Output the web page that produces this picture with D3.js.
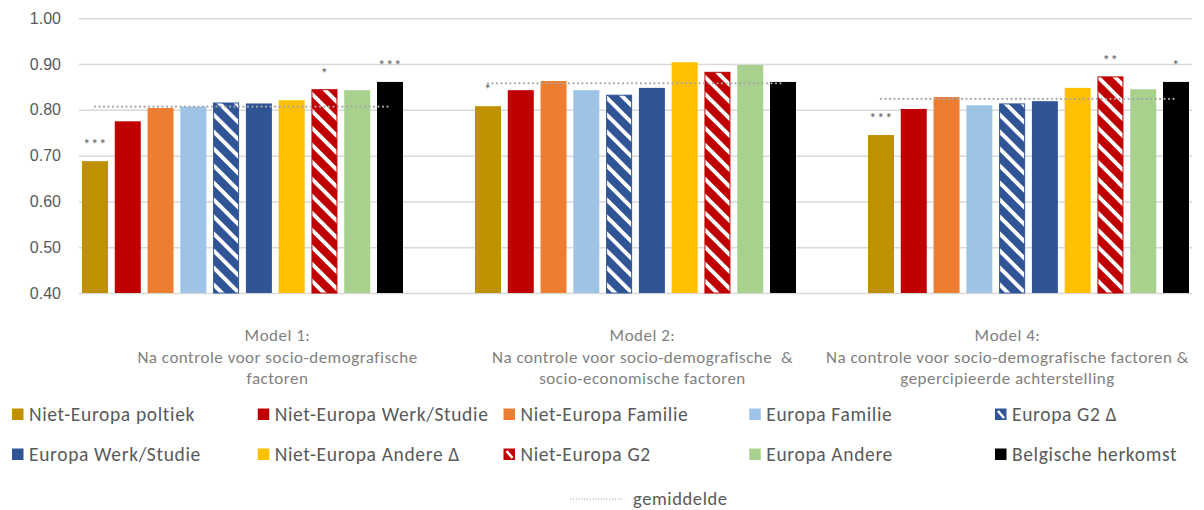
<!DOCTYPE html>
<html>
<head>
<meta charset="utf-8">
<script src="https://cdn.jsdelivr.net/npm/d3@7"></script>
<style>
  html, body { margin: 0; padding: 0; background: #ffffff; }
  svg { display: block; font-family: Carlito, Calibri, Lato, sans-serif; }
</style>
</head>
<body>
<div id="chart"></div>
<script>
// ---------------- DATA ----------------
const categories = ["Model 1", "Model 2", "Model 4"];
const categoryLabels = [
  ["Model 1:", "Na controle voor socio-demografische", "factoren"],
  ["Model 2:", "Na controle voor socio-demografische  &", "socio-economische factoren"],
  ["Model 4:", "Na controle voor socio-demografische factoren &", "gepercipieerde achterstelling"]
];
const seriesNames = [
  "Niet-Europa poltiek", "Niet-Europa Werk/Studie", "Niet-Europa Familie",
  "Europa Familie", "Europa G2 Δ", "Europa Werk/Studie",
  "Niet-Europa Andere Δ", "Niet-Europa G2", "Europa Andere", "Belgische herkomst"
];
const seriesColors = [
  "#BF9000", "#C00000", "#ED7D31", "#9DC3E6", "#2F5597",
  "#2F5597", "#FFC000", "#C00000", "#A9D18E", "#000000"
];
const seriesHatched = [false, false, false, false, true, false, false, true, false, false];

const model1Values = [0.688, 0.775, 0.804, 0.807, 0.815, 0.814, 0.821, 0.844, 0.843, 0.861];
const model2Values = [0.808, 0.843, 0.863, 0.843, 0.832, 0.848, 0.904, 0.882, 0.898, 0.861];
const model4Values = [0.745, 0.802, 0.828, 0.810, 0.813, 0.819, 0.848, 0.872, 0.845, 0.861];
const meanValues = [0.807, 0.858, 0.824];

const model1Stars = ["***", "", "", "", "", "", "", "*", "", "***"];
const model2Stars = ["*", "", "", "", "", "", "", "", "", ""];
const model4Stars = ["***", "", "", "", "", "", "", "**", "", "*"];

const yTicks = [0.40, 0.50, 0.60, 0.70, 0.80, 0.90, 1.00];
const meanLabel = "gemiddelde";

// ---------------- SETUP ----------------
const W = 1204, H = 510;
const allValues = [model1Values, model2Values, model4Values];
const allStars = [model1Stars, model2Stars, model4Stars];

const svg = d3.select("#chart").append("svg")
  .attr("width", W).attr("height", H);

const defs = svg.append("defs");
function makeHatch(id, color) {
  const pw = 17, ph = 17;
  const p = defs.append("pattern").attr("id", id)
    .attr("patternUnits", "userSpaceOnUse")
    .attr("width", pw).attr("height", ph);
  p.append("rect").attr("width", pw).attr("height", ph).attr("fill", color);
  p.append("path")
    .attr("d", `M${-pw},${-ph}L${2*pw},${2*ph}M${-pw},0L${pw},${2*ph}M0,${-ph}L${2*pw},${ph}`)
    .attr("stroke", "#ffffff").attr("stroke-width", 4);
}
makeHatch("hatch-blue", "#2F5597");
makeHatch("hatch-red", "#C00000");
function fillFor(i) {
  if (!seriesHatched[i]) return seriesColors[i];
  return seriesColors[i] === "#2F5597" ? "url(#hatch-blue)" : "url(#hatch-red)";
}

const plotLeft = 79, plotRight = 1192;
const y = d3.scaleLinear().domain([0.40, 1.00]).range([293, 18.3]);

const xGroup = d3.scaleBand().domain(categories).range([46, 1225]);
const clusterWidth = 321;
const xSeries = d3.scaleBand().domain(d3.range(seriesNames.length))
  .range([0, clusterWidth]).paddingInner(0.207).paddingOuter(0);
const clusterOffset = (xGroup.bandwidth() - clusterWidth) / 2;
const xLabel = d3.scaleBand().domain(categories).range([95, 1190]);

// ---------------- GRID + Y AXIS ----------------
const yAxis = d3.axisLeft(y).tickValues(yTicks)
  .tickSize(-(plotRight - plotLeft)).tickPadding(18)
  .tickFormat(d3.format(".2f"));
const gy = svg.append("g").attr("transform", `translate(${plotLeft},0)`).call(yAxis);
gy.select(".domain").remove();
gy.selectAll(".tick line").attr("stroke", "#D9D9D9").attr("stroke-width", 1.5);
gy.selectAll(".tick text").attr("fill", "#595959").style("font-size", "16px");

// ---------------- BARS ----------------
const groups = svg.selectAll("g.group").data(categories).enter().append("g")
  .attr("class", "group")
  .attr("transform", c => `translate(${xGroup(c) + clusterOffset},0)`);

groups.each(function(c, gi) {
  const g = d3.select(this);
  const vals = allValues[gi];
  g.selectAll("rect.bar").data(vals).enter().append("rect")
    .attr("class", "bar")
    .attr("x", (d, i) => xSeries(i) + (seriesHatched[i] ? 0.5 : 0))
    .attr("width", (d, i) => xSeries.bandwidth() - (seriesHatched[i] ? 1 : 0))
    .attr("y", d => y(d))
    .attr("height", d => y(0.40) - y(d))
    .attr("fill", (d, i) => fillFor(i))
    .attr("stroke", (d, i) => seriesHatched[i] ? seriesColors[i] : "none")
    .attr("stroke-width", 1);

  // significance stars
  g.selectAll("text.star").data(vals).enter().append("text")
    .attr("class", "star")
    .attr("x", (d, i) => xSeries(i) + xSeries.bandwidth() / 2)
    .attr("y", d => y(d) - 12)
    .attr("text-anchor", "middle")
    .attr("fill", "#595959")
    .style("font-size", "15px")
    .style("letter-spacing", "0.5px")
    .text((d, i) => allStars[gi][i]);

  // mean line
  const first = xSeries(0) + xSeries.bandwidth() / 2;
  const last = xSeries(seriesNames.length - 1) + xSeries.bandwidth() / 2;
  g.append("line")
    .attr("x1", first).attr("x2", last)
    .attr("y1", y(meanValues[gi])).attr("y2", y(meanValues[gi]))
    .attr("stroke", "#A6A6A6").attr("stroke-width", 2.2)
    .attr("stroke-linecap", "round")
    .attr("stroke-dasharray", "0 4.5");
});

// ---------------- CATEGORY LABELS ----------------
const labelG = svg.append("g");
categories.forEach((c, ci) => {
  const t = labelG.append("text")
    .attr("text-anchor", "middle")
    .attr("fill", "#7F7F7F")
    .style("font-size", "17px")
    .style("letter-spacing", "0.5px");
  categoryLabels[ci].forEach((line, li) => {
    t.append("tspan")
      .attr("x", xLabel(c) + xLabel.bandwidth() / 2)
      .attr("y", 341 + li * 21.5)
      .style("white-space", "pre")
      .text(line);
  });
});

// ---------------- LEGEND ----------------
const legend = svg.append("g");
const legendCols = 5;
const legendX = d3.scaleLinear().domain([0, legendCols]).range([12, 12 + 245.75 * legendCols]);
const sq = 11.5;
seriesNames.forEach((name, i) => {
  const col = i % legendCols, row = Math.floor(i / legendCols);
  const lx = legendX(col), base = 421 + row * 40;
  legend.append("rect")
    .attr("x", lx).attr("y", base - 12.5)
    .attr("width", sq).attr("height", sq)
    .attr("fill", seriesColors[i]);
  if (seriesHatched[i]) {
    legend.append("line")
      .attr("x1", lx + 3).attr("y1", base - 12.5 + 2.5)
      .attr("x2", lx + sq - 2.5).attr("y2", base - 12.5 + sq - 2)
      .attr("stroke", "#ffffff").attr("stroke-width", 2.6);
  }
  legend.append("text")
    .attr("x", lx + 17).attr("y", base)
    .attr("fill", "#595959")
    .style("font-size", "19.5px")
    .style("letter-spacing", "0.65px")
    .text(name);
});
// mean legend
legend.append("line")
  .attr("x1", 570).attr("x2", 622).attr("y1", 499).attr("y2", 499)
  .attr("stroke", "#A6A6A6").attr("stroke-width", 1.2)
  .attr("stroke-dasharray", "1.2 1.6");
legend.append("text")
  .attr("x", 633).attr("y", 505)
  .attr("fill", "#595959")
  .style("font-size", "18.5px")
  .style("letter-spacing", "0.6px")
  .text(meanLabel);
</script>
</body>
</html>
